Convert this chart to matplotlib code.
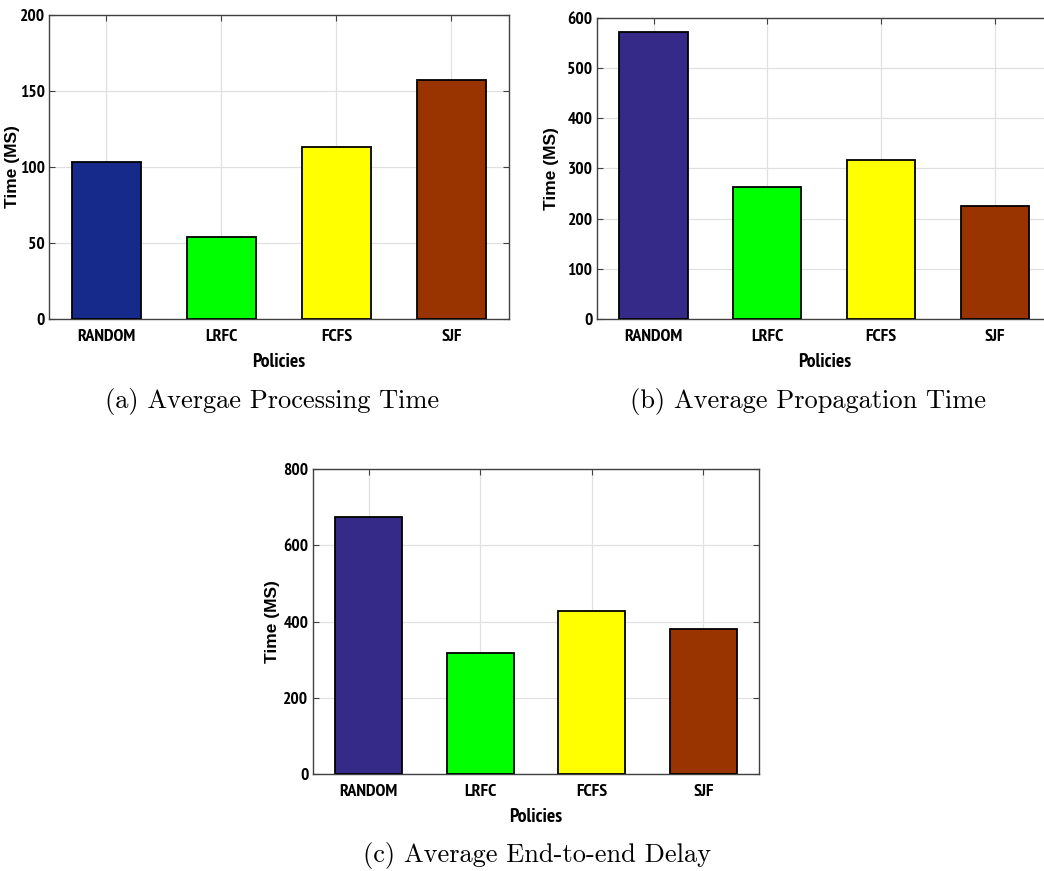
import numpy as np
import matplotlib
matplotlib.use('Agg')
import matplotlib.pyplot as plt
from matplotlib import font_manager

# ============================== Data =========================================
policies = ['RANDOM', 'LRFC', 'FCFS', 'SJF']
processing = [103.5, 54, 113, 157]
propagation = [572, 263, 316, 224]
end_to_end = [676, 317, 428, 381]

colors_a = ['#152a8a', '#00ff00', '#ffff00', '#993300']
colors_bc = ['#352a87', '#00ff00', '#ffff00', '#993300']

# ============================== Fonts ========================================
# MATLAB-like narrow bold font for ticks (first static bold one found)
narrow_pref = ['Liberation Sans Narrow', 'Arial Narrow', 'PT Sans Narrow', 'Archivo Narrow',
               'Roboto Condensed', 'Pragati Narrow', 'Fira Sans Condensed',
               'IBM Plex Sans Condensed', 'Encode Sans Condensed', 'Open Sans Condensed']
narrow_fp = None
for nm in narrow_pref:
    for f in font_manager.fontManager.ttflist:
        if f.name == nm and f.weight == 700 and f.style == 'normal' and '[' not in f.fname:
            narrow_fp = f.fname
            break
    if narrow_fp:
        break

def nfont(size):
    if narrow_fp:
        return font_manager.FontProperties(fname=narrow_fp, size=size)
    return font_manager.FontProperties(family='Liberation Sans', weight='bold', size=size * 0.9)

# ============================== Plot helper ==================================
def panel(rect, values, colors, ymax, ystep, caption, cap_xy, ylab_x):
    ax = fig.add_axes(rect)
    x = np.arange(1, len(policies) + 1)
    ax.bar(x, values, width=0.6, color=colors, edgecolor='black', linewidth=1.3, zorder=3)
    ax.set_xlim(0.5, len(policies) + 0.5)
    ax.set_ylim(0, ymax)
    ax.set_xticks(x)
    ax.set_xticklabels(policies)
    ax.set_yticks(np.arange(0, ymax + 1, ystep))
    for t in ax.get_xticklabels():
        t.set_fontproperties(nfont(13))
    for t in ax.get_yticklabels():
        t.set_fontproperties(nfont(12.5))
    ax.grid(True, color='#e0e0e0', linewidth=0.9, zorder=0)
    ax.tick_params(direction='in', top=True, right=True, length=4, color='#404040')
    ax.tick_params(axis='x', pad=7)
    ax.tick_params(axis='y', pad=3)
    for s in ax.spines.values():
        s.set_color('#404040')
        s.set_linewidth(1.0)
    ax.set_xlabel('Policies', fontproperties=nfont(14), labelpad=6)
    ax.set_ylabel('Time (MS)', fontfamily='Liberation Sans', fontweight='bold', fontsize=12.5)
    ax.yaxis.set_label_coords(ylab_x, 0.5)
    fig.text(cap_xy[0], cap_xy[1], caption, fontfamily='cmr10', fontsize=19,
             ha='center', va='center')
    return ax

# ============================== Figure =======================================
fig = plt.figure(figsize=(10.44, 8.71), dpi=100)

panel([0.0469, 0.6338, 0.4406, 0.349], processing, colors_a, 200, 50,
      '(a) Avergae Processing Time', (272 / 1044, 1 - 401 / 871), -0.062)
panel([0.5716, 0.6338, 0.4358, 0.3459], propagation, colors_bc, 600, 100,
      '(b) Average Propagation Time', (808 / 1044, 1 - 401 / 871), -0.082)
panel([0.2995, 0.1114, 0.4278, 0.3498], end_to_end, colors_bc, 800, 200,
      '(c) Average End-to-end Delay', (537 / 1044, 1 - 855 / 871), -0.073)

plt.savefig('out.png', dpi=100)
